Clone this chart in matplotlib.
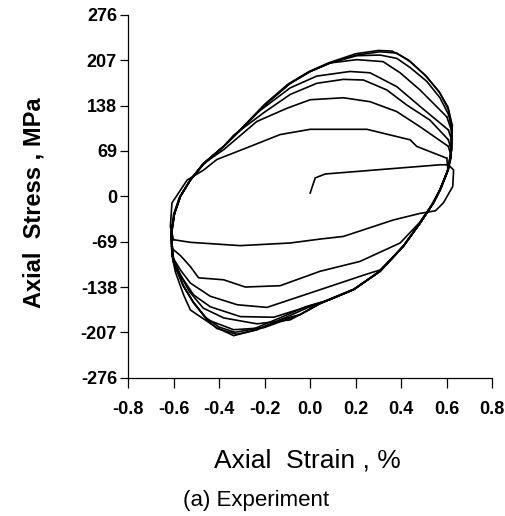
import matplotlib
matplotlib.use("Agg")
import matplotlib.pyplot as plt

# Axis ticks
strain_ticks = [-0.8, -0.6, -0.4, -0.2, 0.0, 0.2, 0.4, 0.6, 0.8]
stress_ticks = [-276, -207, -138, -69, 0, 69, 138, 207, 276]

# Initial loading
strain_load = [0.0, 0.022, 0.066, 0.57, 0.607]
stress_load = [5, 28, 34, 48, 48]

# Cycle 1 compression
strain_c1 = [0.607, 0.63, 0.626, 0.585, 0.55, 0.482, 0.365, 0.146, 0.044, -0.088, -0.307, -0.526, -0.6]
stress_c1 = [48, 40, 15, -10, -22, -26, -36, -61, -65, -71, -75, -70, -66]

# Cycle 2
strain_t2 = [-0.6, -0.614, -0.607, -0.54, -0.468, -0.41, -0.263, -0.132, 0.0, 0.249, 0.439, 0.468, 0.6]
stress_t2 = [-66, -46, -10, 25, 40, 56, 76, 94, 102, 102, 86, 76, 58]
strain_c2 = [0.6, 0.605, 0.57, 0.53, 0.48, 0.395, 0.219, 0.044, -0.132, -0.285, -0.38, -0.49, -0.526, -0.57, -0.605]
stress_c2 = [58, 40, 10, -15, -40, -71, -99, -114, -136, -138, -127, -124, -107, -90, -80]

# Cycle 3
strain_t3 = [-0.605, -0.61, -0.596, -0.57, -0.526, -0.468, -0.38, -0.234, -0.102, 0.0, 0.146, 0.263, 0.38, 0.482, 0.607]
stress_t3 = [-80, -56, -26, 0, 25, 50, 71, 114, 134, 147, 150, 144, 129, 106, 76]
strain_c3 = [0.607, 0.62, 0.605, 0.57, 0.541, 0.482, 0.409, 0.307, 0.234, 0.044, -0.19, -0.32, -0.439, -0.526, -0.57, -0.6]
stress_c3 = [76, 60, 40, 10, -10, -41, -76, -112, -120, -142, -169, -165, -152, -132, -112, -95]

# Cycle 4
strain_t4 = [-0.6, -0.61, -0.596, -0.57, -0.526, -0.468, -0.38, -0.336, -0.205, -0.088, 0.029, 0.146, 0.234, 0.336, 0.424, 0.526, 0.607]
stress_t4 = [-95, -60, -26, 0, 25, 50, 76, 93, 127, 155, 172, 178, 177, 162, 139, 116, 86]
strain_c4 = [0.607, 0.62, 0.605, 0.57, 0.541, 0.482, 0.409, 0.307, 0.19, 0.088, -0.16, -0.307, -0.439, -0.512, -0.56, -0.6]
stress_c4 = [86, 70, 40, 10, -10, -41, -76, -114, -142, -157, -184, -183, -168, -150, -125, -100]

# Cycle 5
strain_t5 = [-0.6, -0.61, -0.596, -0.57, -0.526, -0.468, -0.38, -0.292, -0.234, -0.088, 0.029, 0.175, 0.263, 0.38, 0.482, 0.607]
stress_t5 = [-100, -60, -26, 0, 25, 50, 76, 106, 127, 165, 183, 190, 188, 167, 137, 101]
strain_c5 = [0.607, 0.621, 0.617, 0.6, 0.57, 0.541, 0.482, 0.409, 0.307, 0.19, 0.044, -0.088, -0.234, -0.38, -0.47, -0.53, -0.57, -0.607]
stress_c5 = [101, 86, 60, 35, 10, -10, -41, -76, -114, -142, -163, -188, -194, -185, -170, -145, -120, -90]

# Cycle 6
strain_t6 = [-0.607, -0.61, -0.596, -0.57, -0.526, -0.468, -0.38, -0.292, -0.19, -0.088, 0.0, 0.088, 0.205, 0.32, 0.395, 0.482, 0.6]
stress_t6 = [-90, -56, -26, 0, 25, 50, 76, 106, 142, 172, 190, 203, 208, 205, 188, 162, 121]
strain_c6 = [0.6, 0.621, 0.62, 0.605, 0.57, 0.541, 0.482, 0.409, 0.307, 0.19, 0.044, -0.044, -0.205, -0.336, -0.45, -0.512, -0.556, -0.592, -0.607]
stress_c6 = [121, 100, 71, 40, 10, -10, -41, -76, -114, -142, -163, -180, -200, -203, -188, -162, -137, -107, -86]

# Cycle 7
strain_t7 = [-0.607, -0.61, -0.596, -0.57, -0.526, -0.468, -0.38, -0.292, -0.19, -0.088, 0.0, 0.088, 0.205, 0.307, 0.38, 0.439, 0.512, 0.57, 0.607, 0.621]
stress_t7 = [-86, -56, -26, 0, 25, 50, 76, 106, 142, 172, 190, 203, 214, 215, 210, 196, 175, 150, 125, 106]
strain_c7 = [0.621, 0.62, 0.605, 0.57, 0.541, 0.482, 0.409, 0.307, 0.19, 0.044, -0.044, -0.132, -0.234, -0.336, -0.41, -0.526, -0.556, -0.592, -0.607]
stress_c7 = [106, 71, 40, 10, -10, -41, -76, -114, -142, -163, -180, -188, -203, -212, -200, -173, -150, -115, -90]

# Cycle 8
strain_t8 = [-0.607, -0.61, -0.596, -0.57, -0.526, -0.468, -0.38, -0.292, -0.19, -0.088, 0.0, 0.088, 0.205, 0.307, 0.38, 0.439, 0.512, 0.57, 0.607, 0.621]
stress_t8 = [-90, -56, -26, 0, 25, 50, 76, 106, 142, 172, 190, 203, 215, 220, 218, 205, 182, 157, 132, 106]
strain_c8 = [0.621, 0.62, 0.605, 0.57, 0.541, 0.482, 0.409, 0.307, 0.19, 0.044, -0.015, -0.132, -0.234, -0.322, -0.41, -0.453, -0.512, -0.556, -0.592, -0.607]
stress_c8 = [106, 71, 40, 10, -10, -41, -76, -114, -142, -163, -170, -188, -203, -210, -201, -188, -162, -137, -107, -86]

# Cycle 9 (stable loop)
strain_t9 = [-0.607, -0.612, -0.6, -0.575, -0.53, -0.47, -0.385, -0.3, -0.2, -0.1, -0.01, 0.08, 0.2, 0.3, 0.36, 0.43, 0.5, 0.565, 0.605, 0.624]
stress_t9 = [-86, -58, -28, -2, 23, 48, 74, 104, 140, 170, 189, 203, 217, 222, 221, 208, 186, 160, 136, 108]
strain_c9 = [0.624, 0.622, 0.608, 0.575, 0.545, 0.488, 0.415, 0.315, 0.2, 0.06, -0.02, -0.14, -0.25, -0.33, -0.4, -0.46, -0.515, -0.56, -0.595, -0.607]
stress_c9 = [108, 72, 42, 12, -8, -38, -73, -111, -140, -160, -168, -186, -202, -207, -199, -184, -160, -134, -104, -86]

branches = [
    (strain_load, stress_load), (strain_c1, stress_c1),
    (strain_t2, stress_t2), (strain_c2, stress_c2),
    (strain_t3, stress_t3), (strain_c3, stress_c3),
    (strain_t4, stress_t4), (strain_c4, stress_c4),
    (strain_t5, stress_t5), (strain_c5, stress_c5),
    (strain_t6, stress_t6), (strain_c6, stress_c6),
    (strain_t7, stress_t7), (strain_c7, stress_c7),
    (strain_t8, stress_t8), (strain_c8, stress_c8),
    (strain_t9, stress_t9), (strain_c9, stress_c9),
]

plt.rcParams["font.family"] = ["Liberation Sans", "DejaVu Sans"]
plt.rcParams["axes.unicode_minus"] = False

fig = plt.figure(figsize=(5.06, 5.16), dpi=100)
ax = fig.add_axes([0.253, 0.268, 0.720, 0.703])

for strain, stress in branches:
    ax.plot(strain, stress, color="black", linewidth=1.2)

ax.set_xlim(-0.8, 0.8)
ax.set_ylim(-276, 276)
ax.set_xticks(strain_ticks)
ax.set_xticklabels([f"{v:.1f}" for v in strain_ticks])
ax.set_yticks(stress_ticks)
ax.set_yticklabels([str(v) for v in stress_ticks])

ax.spines["top"].set_visible(False)
ax.spines["right"].set_visible(False)
ax.spines["left"].set_linewidth(0.9)
ax.spines["bottom"].set_linewidth(0.9)

ax.tick_params(axis="y", direction="out", length=6, width=0.9, pad=2, labelsize=13)
ax.tick_params(axis="x", direction="out", length=7, width=0.9, pad=10, labelsize=13)
for label in ax.get_xticklabels() + ax.get_yticklabels():
    label.set_fontweight("bold")

fig.text(0.067, 0.607, "Axial  Stress , MPa", rotation=90, ha="center", va="center",
         fontsize=17, fontweight="bold")
fig.text(0.608, 0.107, "Axial  Strain , %", ha="center", va="center", fontsize=19)
fig.text(0.506, 0.031, "(a) Experiment", ha="center", va="center", fontsize=16)

fig.savefig("out.png", dpi=100)
